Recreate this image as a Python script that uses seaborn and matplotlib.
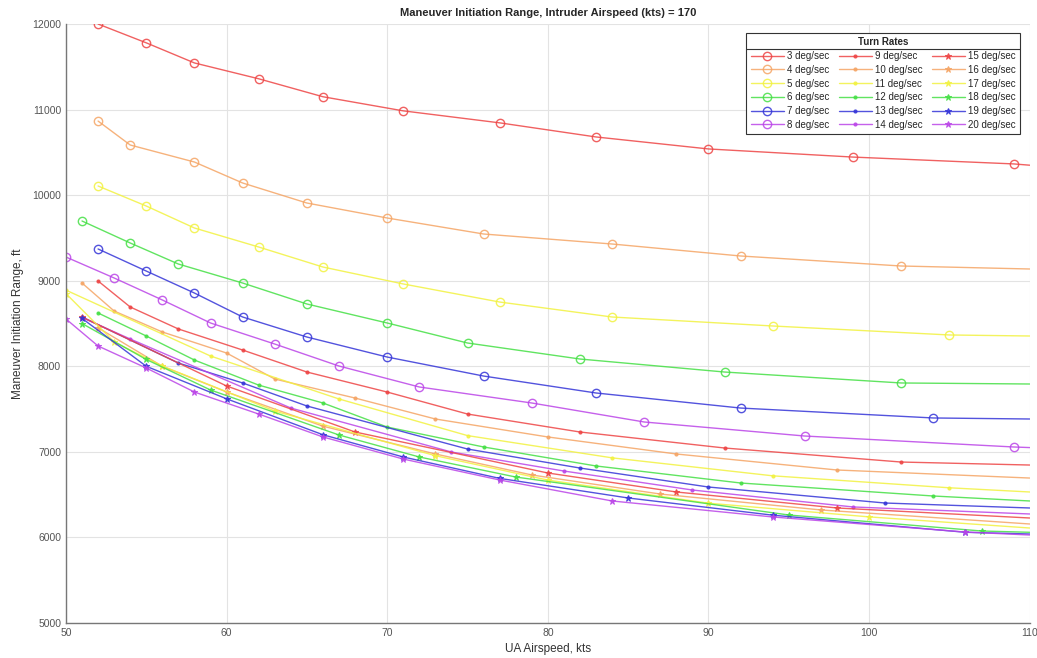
import numpy as np
import pandas as pd
import matplotlib
matplotlib.use("Agg")
import matplotlib.pyplot as plt
import seaborn as sns

# Turn rates plotted (deg/sec)
turn_rates = list(range(3, 21))

# UA airspeed (kts) / maneuver initiation range (ft)
x_3 = [52, 55, 58, 62, 66, 71, 77, 83, 90, 99, 109, 110]
y_3 = [12000, 11780, 11545, 11360, 11150, 10985, 10845, 10680, 10540, 10445, 10365, 10350]
x_4 = [52, 54, 58, 61, 65, 70, 76, 84, 92, 102, 110]
y_4 = [10866, 10586, 10387, 10142, 9908, 9733, 9546, 9429, 9289, 9172, 9137]
x_5 = [52, 55, 58, 62, 66, 71, 77, 84, 94, 105, 110]
y_5 = [10107, 9873, 9616, 9394, 9160, 8962, 8751, 8576, 8471, 8366, 8354]
x_6 = [51, 54, 57, 61, 65, 70, 75, 82, 91, 102, 110]
y_6 = [9698, 9441, 9195, 8973, 8728, 8506, 8272, 8085, 7933, 7805, 7793]
x_7 = [52, 55, 58, 61, 65, 70, 76, 83, 92, 104, 110]
y_7 = [9371, 9113, 8856, 8576, 8342, 8108, 7886, 7688, 7512, 7396, 7384]
x_8 = [50, 53, 56, 59, 63, 67, 72, 79, 86, 96, 109, 110]
y_8 = [9277, 9032, 8775, 8506, 8260, 8003, 7758, 7571, 7349, 7185, 7057, 7050]
x_9 = [52, 54, 57, 61, 65, 70, 75, 82, 91, 102, 110]
y_9 = [8997, 8693, 8436, 8190, 7933, 7699, 7442, 7232, 7045, 6881, 6846]
x_10 = [51, 53, 56, 60, 63, 68, 73, 80, 88, 98, 110]
y_10 = [8973, 8646, 8401, 8155, 7851, 7629, 7384, 7174, 6975, 6788, 6694]
x_11 = [50, 59, 67, 75, 84, 94, 105, 110]
y_11 = [8890, 8120, 7618, 7190, 6930, 6720, 6580, 6531]
x_12 = [52, 55, 58, 62, 66, 70, 76, 83, 92, 104, 110]
y_12 = [8623, 8354, 8073, 7780, 7571, 7290, 7057, 6835, 6636, 6484, 6426]
x_13 = [51, 57, 61, 65, 75, 82, 90, 101, 110]
y_13 = [8576, 8038, 7805, 7536, 7033, 6811, 6589, 6402, 6344]
x_14 = [51, 54, 64, 74, 81, 89, 99, 110]
y_14 = [8570, 8319, 7512, 6998, 6776, 6554, 6356, 6274]
x_15 = [51, 60, 68, 80, 88, 98, 110]
y_15 = [8576, 7770, 7232, 6753, 6531, 6344, 6227]
x_16 = [52, 56, 60, 66, 73, 79, 87, 97, 110]
y_16 = [8450, 8000, 7700, 7300, 6975, 6730, 6507, 6321, 6157]
x_17 = [50, 53, 56, 63, 73, 80, 90, 100, 110]
y_17 = [8850, 8284, 8003, 7477, 6955, 6670, 6400, 6240, 6110]
x_18 = [51, 55, 59, 67, 72, 78, 95, 107, 110]
y_18 = [8500, 8080, 7723, 7197, 6940, 6706, 6262, 6075, 6060]
x_19 = [51, 55, 60, 66, 71, 77, 85, 94, 106, 110]
y_19 = [8560, 8000, 7620, 7200, 6940, 6690, 6461, 6260, 6060, 6040]
x_20 = [50, 52, 55, 58, 62, 66, 71, 77, 84, 94, 106, 110]
y_20 = [8553, 8237, 7980, 7699, 7442, 7174, 6916, 6671, 6426, 6239, 6063, 6028]

xs = [x_3, x_4, x_5, x_6, x_7, x_8, x_9, x_10, x_11, x_12, x_13, x_14,
      x_15, x_16, x_17, x_18, x_19, x_20]
ys = [y_3, y_4, y_5, y_6, y_7, y_8, y_9, y_10, y_11, y_12, y_13, y_14,
      y_15, y_16, y_17, y_18, y_19, y_20]

colors = ["#ee4545", "#f5a565", "#f2f240", "#45e045", "#3535d8", "#bb45e8"]

sns.set_style("white")
plt.rcParams["font.family"] = ["Liberation Sans", "DejaVu Sans"]

fig = plt.figure(figsize=(10.37, 6.58), dpi=100)
ax = fig.add_axes([0.0636, 0.0532, 0.9294, 0.9103])

for i, rate in enumerate(turn_rates):
    col = colors[i % 6]
    group = i // 6
    if group == 0:
        mk = dict(marker="o", markersize=6, markerfacecolor="none",
                  markeredgecolor=col, markeredgewidth=1.0)
    elif group == 1:
        mk = dict(marker=".", markersize=4.5, markerfacecolor=col, markeredgecolor=col)
    else:
        mk = dict(marker="*", markersize=4.5, markerfacecolor=col, markeredgecolor=col)
    df = pd.DataFrame({"speed": xs[i], "range": ys[i]})
    sns.lineplot(data=df, x="speed", y="range", ax=ax, color=col, linewidth=1.0,
                 alpha=0.85, label=f"{rate} deg/sec", markevery=slice(0, -1),
                 sort=False, **mk)

ax.set_xlim(50, 110)
ax.set_ylim(5000, 12000)
ax.set_xticks(np.arange(50, 111, 10))
ax.set_yticks(np.arange(5000, 12001, 1000))
ax.grid(True, color="#e3e3e3", linewidth=0.8)
ax.tick_params(direction="in", length=4, labelsize=7.5, colors="#555555",
               top=False, right=False)
for side in ["top", "right"]:
    ax.spines[side].set_visible(False)
for side in ["left", "bottom"]:
    ax.spines[side].set_color("#777777")
    ax.spines[side].set_linewidth(1.0)

ax.set_title("Maneuver Initiation Range, Intruder Airspeed (kts) = 170",
             fontsize=8, fontweight="bold", pad=6)
ax.set_xlabel("UA Airspeed, kts", fontsize=8.5, color="#333333", labelpad=4)
ax.set_ylabel("Maneuver Initiation Range, ft", fontsize=8.5, color="#333333", labelpad=6)

leg = ax.legend(ncol=3, loc="upper right", bbox_to_anchor=(0.995, 0.993),
                fontsize=7, title="Turn Rates", title_fontproperties={"weight": "bold", "size": 7},
                frameon=True, fancybox=False, edgecolor="#333333", framealpha=1,
                handlelength=3.4, columnspacing=1.0, labelspacing=0.38,
                borderpad=0.45, handletextpad=0.3)
leg.get_frame().set_linewidth(0.8)

# separator under the legend title
fig.canvas.draw()
bb = leg.get_window_extent()
tb = leg.get_title().get_window_extent()
sep_y = (tb.y0 - 2) / fig.bbox.height
fig.add_artist(matplotlib.lines.Line2D([bb.x0 / fig.bbox.width, bb.x1 / fig.bbox.width],
                                       [sep_y, sep_y], color="#333333", linewidth=0.8))

fig.savefig("out.png", dpi=100)
plt.close(fig)
